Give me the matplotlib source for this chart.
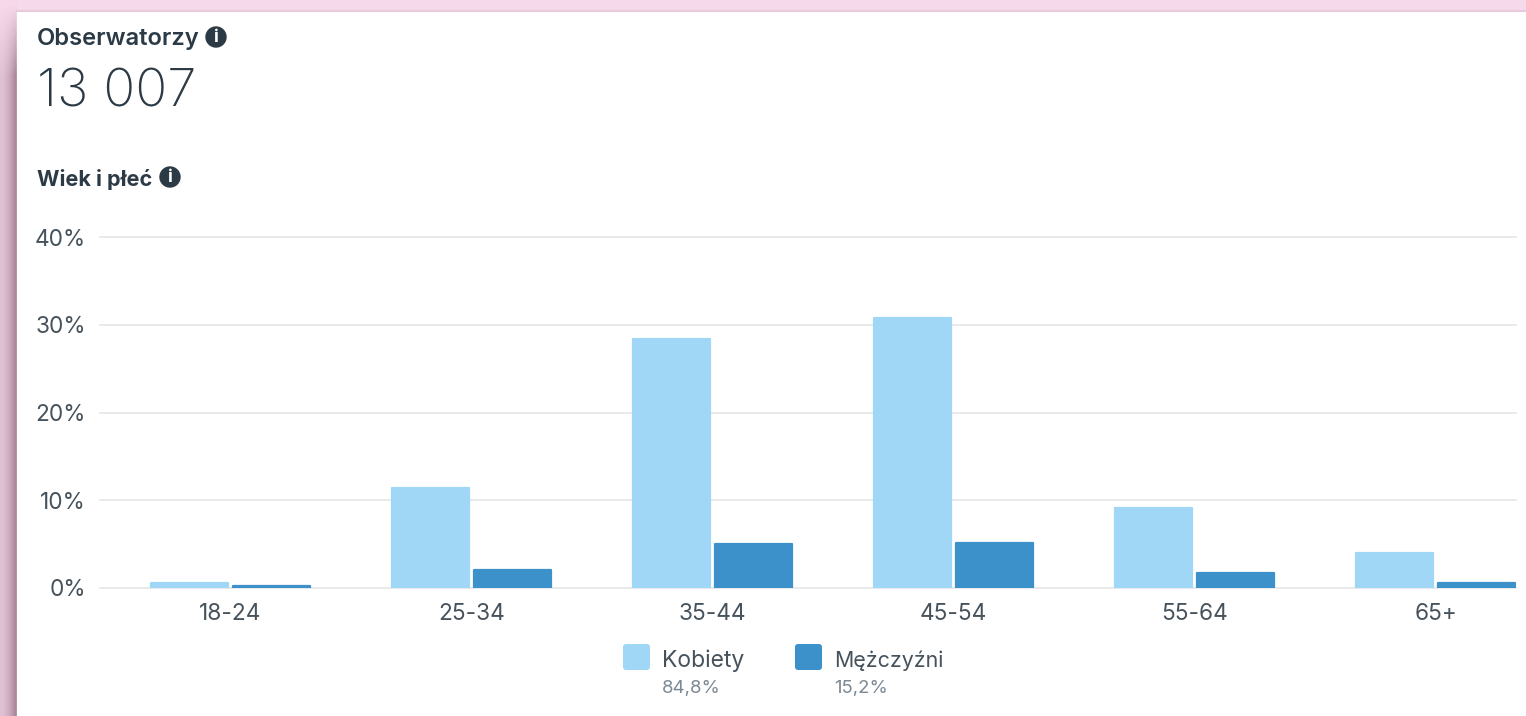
import matplotlib
matplotlib.use("Agg")
import matplotlib.pyplot as plt
import numpy as np
from matplotlib.patches import Circle, FancyBboxPatch, Rectangle

ages = ["18-24", "25-34", "35-44", "45-54", "55-64", "65+"]
women = [0.6, 11.4, 28.4, 30.8, 9.1, 4.0]
men = [0.2, 2.0, 5.0, 5.1, 1.7, 0.6]
y_ticks = [0, 10, 20, 30, 40]
y_labels = ["0%", "10%", "20%", "30%", "40%"]
header = "Obserwatorzy"
total = "13 007"
subheader = "Wiek i płeć"
legend_names = ["Kobiety", "Mężczyźni"]
legend_shares = ["84,8%", "15,2%"]

W, H = 1526, 716
LIGHT = "#a1d7f6"
DARK = "#3c91ca"
INK = "#2b3a45"

plt.rcParams["font.family"] = ["Inter", "Roboto", "DejaVu Sans"]
fig = plt.figure(figsize=(W / 100, H / 100), dpi=100)

# page background, card and its shadow, in pixel coordinates
bg = fig.add_axes([0, 0, 1, 1], zorder=0)
bg.set_xlim(0, W)
bg.set_ylim(H, 0)
bg.axis("off")
bg.add_patch(Rectangle((0, 0), W, H, color="#f6d9ea"))
pale = np.array([0.965, 0.85, 0.92])
side = np.array([0.88, 0.76, 0.83])
edge = np.array([0.64, 0.50, 0.58])
across = np.linspace(0, 1, 17)[None, :, None] ** 1.8
down = np.clip(np.linspace(-0.05, 1.6, 120), 0, 1)[:, None, None]
col = (side + (edge - side) * across) * down + pale * (1 - down)
bg.imshow(col, extent=(0, 17, 120, 0), aspect="auto", interpolation="bilinear", zorder=2)
rest = (side + (edge - side) * across)
bg.imshow(rest, extent=(0, 17, H, 120), aspect="auto", interpolation="bilinear", zorder=2)
bg.set_xlim(0, W)
bg.set_ylim(H, 0)
bg.add_patch(Rectangle((17, 11), W - 17, H - 11, color="white", zorder=3))
bg.plot([17, W], [11, 11], color="#e8cbdb", lw=1.5, zorder=3)

# chart axes
ax = fig.add_axes([100 / W, 1 - 588 / H, (1516 - 100) / W, (588 - 237) / H], zorder=2)
ax.patch.set_alpha(0)
x = np.arange(len(ages))
ax.bar(x - 0.171, women, 0.32, color=LIGHT, edgecolor=LIGHT, linewidth=1.6, joinstyle="round", zorder=3)
ax.bar(x + 0.169, men, 0.32, color=DARK, edgecolor=DARK, linewidth=1.6, joinstyle="round", zorder=3)
ax.set_xlim(-0.5415, 5.334)
ax.set_ylim(0, 40)
ax.set_yticks(y_ticks, y_labels)
ax.set_xticks(x, ages)
ax.grid(axis="y", color="#e8eaec", lw=1.4, zorder=0)
for gl in ax.get_ygridlines():
    gl.set_clip_on(False)
ax.tick_params(length=0, labelsize=16.3, labelcolor="#46525c")
ax.tick_params(axis="y", pad=10)
ax.tick_params(axis="x", pad=11)
for s in ax.spines.values():
    s.set_visible(False)

# header, info icons and legend, in pixel coordinates
top = fig.add_axes([0, 0, 1, 1], zorder=4)
top.set_xlim(0, W)
top.set_ylim(H, 0)
top.axis("off")
top.text(37, 39, header, fontsize=17.1, fontweight="semibold", color=INK, va="center")
top.text(37, 93, total, fontsize=38, fontweight="light", color=INK, va="center")
top.text(37, 179, subheader, fontsize=15.6, fontweight="bold", color=INK, va="center")
for cx, cy in [(216, 37), (170, 177)]:
    top.add_patch(Circle((cx, cy), 10, color=INK))
    top.text(cx, cy, "i", fontsize=12.5, fontweight="bold", color="white", ha="center", va="center")
for sx, name, share, size, color in zip([623, 795], legend_names, legend_shares, [16.5, 15.4], [LIGHT, DARK]):
    top.add_patch(FancyBboxPatch((sx + 2, 646), 23, 22, boxstyle="round,pad=2,rounding_size=3", color=color, lw=0))
    top.text(sx + 39, 661, name, fontsize=size, color="#46525c", va="center")
    top.text(sx + 39, 688, share, fontsize=13.4, color="#7c8994", va="center")

fig.savefig("out.png", dpi=100)
